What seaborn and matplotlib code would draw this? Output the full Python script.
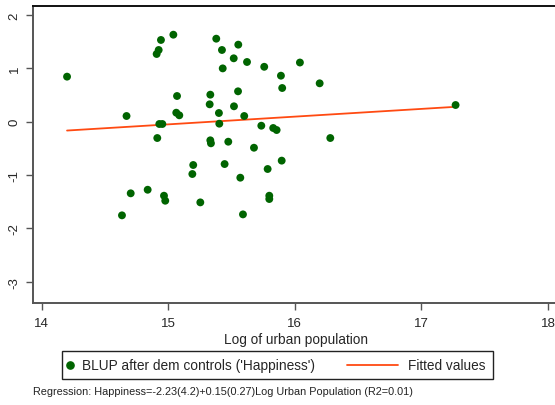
import numpy as np
import pandas as pd
import matplotlib
matplotlib.use("Agg")
import matplotlib.pyplot as plt
from matplotlib.lines import Line2D
from matplotlib.patches import Rectangle
import seaborn as sns

# Log of urban population and country-level BLUP ('Happiness') after demographic controls
log_urban_pop = [
    14.20, 14.67, 14.908, 14.924, 14.942, 15.04, 14.913, 14.929, 14.953, 15.069,
    15.063, 15.087, 15.379, 15.553, 15.424, 15.517, 15.622, 15.43, 15.758, 15.332,
    15.551, 15.327, 15.519, 15.40, 15.60, 15.403, 15.735, 15.829, 15.856, 15.332,
    15.337, 15.474, 15.677, 15.89, 15.90, 16.04, 16.196, 17.27, 16.28, 15.896,
    15.785, 15.798, 15.798, 14.634, 14.703, 14.837, 14.966, 14.976, 15.197, 15.19,
    15.253, 15.445, 15.569, 15.59,
]
blup_happiness = [
    0.845, 0.107, 1.27, 1.345, 1.533, 1.632, -0.306, -0.043, -0.043, 0.482,
    0.169, 0.12, 1.557, 1.445, 1.345, 1.189, 1.12, 1.0, 1.03, 0.507,
    0.57, 0.326, 0.289, 0.163, 0.107, -0.037, -0.075, -0.118, -0.156, -0.349,
    -0.405, -0.375, -0.488, 0.863, 0.632, 1.11, 0.72, 0.313, -0.306, -0.73,
    -0.887, -1.388, -1.45, -1.756, -1.343, -1.276, -1.388, -1.482, -0.812, -0.981,
    -1.513, -0.794, -1.05, -1.738,
]
x_ticks = [14, 15, 16, 17, 18]
y_ticks = [-3, -2, -1, 0, 1, 2]

df = pd.DataFrame({"logpop": log_urban_pop, "blup": blup_happiness})

sns.set_theme(style="white")
plt.rcParams["font.family"] = ["Liberation Sans", "DejaVu Sans"]

W, H = 555, 406
fig = plt.figure(figsize=(W / 100, H / 100), dpi=100)
fig.patch.set_facecolor("white")

def fx(px):
    return px / W

def fy(py):
    return 1 - py / H

left, right, top, bottom = 33, 560, 7, 304
ax = fig.add_axes([fx(left), fy(bottom), (right - left) / W, (bottom - top) / H])

green = "#006400"
fit_col = "#FF4A12"

sns.scatterplot(data=df, x="logpop", y="blup", ax=ax, color=green, s=32,
                edgecolor="none", linewidth=0, zorder=3)
sns.regplot(data=df, x="logpop", y="blup", ax=ax, scatter=False, ci=None,
            truncate=True, line_kws={"color": fit_col, "linewidth": 1.3, "zorder": 2})

ax.set_xlim(13.931, 18.095)
ax.set_ylim(-3.40, 2.17)
ax.set_xticks(x_ticks)
ax.set_yticks(y_ticks)
ax.set_xticklabels([str(t) for t in x_ticks], fontsize=9.5)
ax.set_yticklabels([str(t) for t in y_ticks], fontsize=9.5, rotation=90, va="center")
ax.set_xlabel("Log of urban population", fontsize=9.8, labelpad=2)
ax.set_ylabel("")
ax.tick_params(axis="both", direction="out", length=5, width=1, color="#555555",
               bottom=True, left=True)
ax.tick_params(axis="y", pad=4)
ax.tick_params(axis="x", pad=5)

for side in ["left", "bottom"]:
    ax.spines[side].set_color("#555555")
    ax.spines[side].set_linewidth(1.4)
for side in ["top", "right"]:
    ax.spines[side].set_color("#111111")
    ax.spines[side].set_linewidth(1.4)
ax.grid(False)
ax.set_facecolor("white")

# Legend box drawn in figure coordinates
lx0, lx1, ly0, ly1 = 62, 493, 352, 380
fig.patches.append(Rectangle((fx(lx0), fy(ly1)), (lx1 - lx0) / W, (ly1 - ly0) / H,
                             transform=fig.transFigure, facecolor="white",
                             edgecolor="#222222", linewidth=1.0))
ly = fy(366)
fig.lines.append(Line2D([fx(70)], [ly], transform=fig.transFigure, marker="o",
                        markersize=5.2, color=green, linestyle="none"))
fig.text(fx(82), ly, "BLUP after dem controls ('Happiness')", fontsize=9.9,
         va="center", ha="left")
fig.lines.append(Line2D([fx(347), fx(398)], [ly, ly], transform=fig.transFigure,
                        color=fit_col, linewidth=1.3))
fig.text(fx(408), ly, "Fitted values", fontsize=9.8, va="center", ha="left")

fig.text(fx(33), fy(392),
         "Regression: Happiness=-2.23(4.2)+0.15(0.27)Log Urban Population (R2=0.01)",
         fontsize=7.85, va="center", ha="left", color="#222222")

fig.savefig("out.png", dpi=100)
